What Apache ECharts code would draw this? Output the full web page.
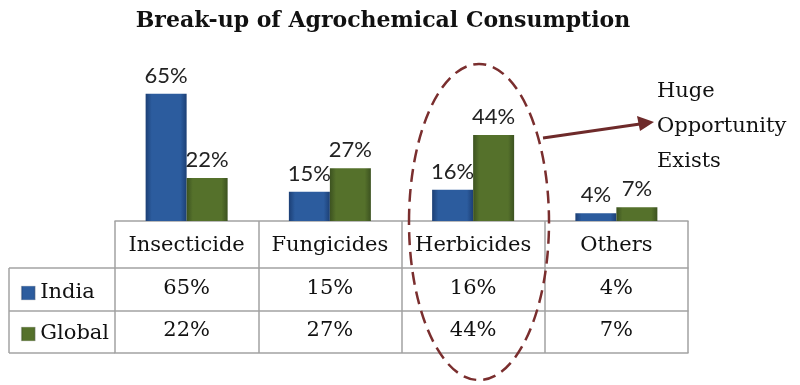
<!DOCTYPE html>
<html><head><meta charset="utf-8">
<script src="https://cdn.jsdelivr.net/npm/echarts@6/dist/echarts.min.js"></script>
<style>html,body{margin:0;padding:0;background:#fff}#c{width:800px;height:385px}</style>
</head><body><div id="c"></div>
<script>
var categories = ['Insecticide', 'Fungicides', 'Herbicides', 'Others'];
var india = [65, 15, 16, 4];
var global = [22, 27, 44, 7];
var seriesNames = ['India', 'Global'];
var titleText = 'Break-up of Agrochemical Consumption';
var noteLines = ['Huge', 'Opportunity', 'Exists'];

var SERIF = '"DejaVu Serif", serif';
var LINE = '#a3a3a3';
function grad(dark, light) {
  return new echarts.graphic.LinearGradient(0, 0, 1, 0, [
    {offset: 0, color: dark}, {offset: 0.15, color: light},
    {offset: 0.85, color: light}, {offset: 1, color: dark}]);
}
var blue = grad('#1c3f75', '#2c5c9e');
var green = grad('#3c5220', '#55712b');

function tableAxis(offset, tickLen, margin, values, showLabel) {
  return {
    type: 'category', data: categories, position: 'bottom', offset: offset,
    axisLine: {show: true, lineStyle: {color: LINE, width: 1.5}},
    axisTick: {show: tickLen > 0, interval: 0, length: tickLen, lineStyle: {color: LINE, width: 1.5}},
    axisLabel: {show: showLabel, interval: 0, hideOverlap: false, margin: margin,
      fontFamily: SERIF, fontSize: 21, color: '#111',
      formatter: function (v, i) { return values ? values[i] + '%' : v; }},
    splitLine: {show: false}
  };
}

var chart = echarts.init(document.getElementById('c'));
chart.setOption({
  animation: false,
  title: {text: titleText, left: 378, textAlign: 'center', top: 5,
    textStyle: {fontFamily: SERIF, fontWeight: 'bold', fontSize: 22, color: '#111'}},
  grid: {left: 115, right: 112, top: 84, bottom: 164},
  legend: {orient: 'vertical', left: 16, top: 276, itemWidth: 14, itemHeight: 14, itemGap: 17,
    icon: 'rect', data: seriesNames, itemStyle: {borderColor: '#ccc', borderWidth: 0.5},
    textStyle: {fontFamily: SERIF, fontSize: 21, color: '#111', lineHeight: 24}},
  xAxis: [
    tableAxis(0, 47, 14, null, true),
    tableAxis(47, 43, 10, india, true),
    tableAxis(90, 42, 9, global, true),
    tableAxis(132, 0, 0, null, false)
  ],
  yAxis: {type: 'value', min: 0, max: 70, show: false},
  series: [
    {name: seriesNames[0], type: 'bar', data: india, barWidth: 41, barGap: '0%',
      itemStyle: {color: blue},
      label: {show: true, position: 'top', distance: 7, fontFamily: 'Lato', fontSize: 22, color: '#222',
        formatter: '{c}%'}},
    {name: seriesNames[1], type: 'bar', data: global, barWidth: 41,
      itemStyle: {color: green},
      label: {show: true, position: 'top', distance: 7, fontFamily: 'Lato', fontSize: 22, color: '#222',
        formatter: '{c}%'}}
  ],
  graphic: [
    {type: 'line', shape: {x1: 9, y1: 268, x2: 115, y2: 268}, style: {stroke: LINE, lineWidth: 1.5}},
    {type: 'line', shape: {x1: 9, y1: 311, x2: 115, y2: 311}, style: {stroke: LINE, lineWidth: 1.5}},
    {type: 'line', shape: {x1: 9, y1: 353, x2: 115, y2: 353}, style: {stroke: LINE, lineWidth: 1.5}},
    {type: 'line', shape: {x1: 9, y1: 268, x2: 9, y2: 353}, style: {stroke: LINE, lineWidth: 1.5}},
    {type: 'ellipse', shape: {cx: 479, cy: 222, rx: 70, ry: 158}, z: 100,
      style: {fill: null, stroke: '#7a2e2e', lineWidth: 2.5, lineDash: [13, 7]}},
    {type: 'line', shape: {x1: 543, y1: 138, x2: 640, y2: 124}, z: 100,
      style: {stroke: '#6e2a2a', lineWidth: 3}},
    {type: 'polygon', shape: {points: [[654, 122], [637, 116], [640, 131]]}, z: 100,
      style: {fill: '#6e2a2a'}},
    {type: 'text', left: 657, top: 74, z: 100,
      style: {text: noteLines.join('\n'), fontFamily: SERIF, fontSize: 21, lineHeight: 35, fill: '#111'}}
  ]
});
</script></body></html>
